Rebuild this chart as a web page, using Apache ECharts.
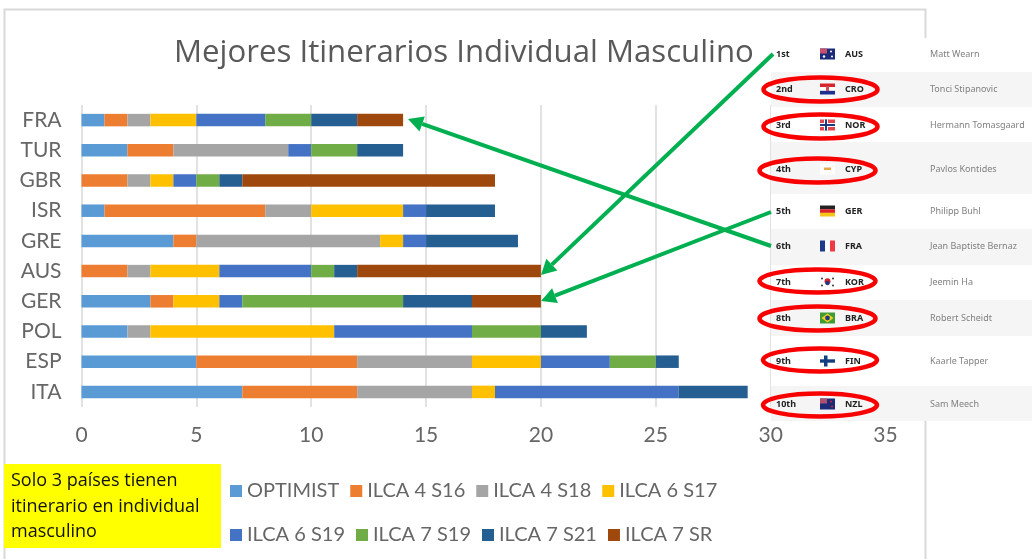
<!DOCTYPE html>
<html>
<head>
<meta charset="utf-8">
<title>Mejores Itinerarios Individual Masculino</title>
<script src="https://cdn.jsdelivr.net/npm/echarts@6/dist/echarts.min.js"></script>
<style>
  html, body { margin: 0; padding: 0; background: #fff; }
  #main { width: 1032px; height: 559px; }
</style>
</head>
<body>
<div id="main"></div>
<script>
var countries = ["FRA", "TUR", "GBR", "ISR", "GRE", "AUS", "GER", "POL", "ESP", "ITA"];
var optimist = [1, 2, 0, 1, 4, 0, 3, 2, 5, 7];
var ilca4s16 = [1, 2, 2, 7, 1, 2, 1, 0, 7, 5];
var ilca4s18 = [1, 5, 1, 2, 8, 1, 0, 1, 5, 5];
var ilca6s17 = [2, 0, 1, 4, 1, 3, 2, 8, 3, 1];
var ilca6s19 = [3, 1, 1, 1, 1, 4, 1, 6, 3, 8];
var ilca7s19 = [2, 2, 1, 0, 0, 1, 7, 3, 2, 0];
var ilca7s21 = [2, 2, 1, 3, 4, 1, 3, 2, 1, 3];
var ilca7sr = [2, 0, 11, 0, 0, 8, 3, 0, 0, 0];
var seriesNames = ["OPTIMIST", "ILCA 4 S16", "ILCA 4 S18", "ILCA 6 S17", "ILCA 6 S19", "ILCA 7 S19", "ILCA 7 S21", "ILCA 7 SR"];
var seriesValues = [optimist, ilca4s16, ilca4s18, ilca6s17, ilca6s19, ilca7s19, ilca7s21, ilca7sr];
var seriesColors = ["#5b9bd5", "#ed7d31", "#a5a5a5", "#ffc000", "#4472c4", "#70ad47", "#255e91", "#9e480e"];

// pasted results table on the right
var ranks = ["1st", "2nd", "3rd", "4th", "5th", "6th", "7th", "8th", "9th", "10th"];
var codes = ["AUS", "CRO", "NOR", "CYP", "GER", "FRA", "KOR", "BRA", "FIN", "NZL"];
var sailors = ["Matt Wearn", "Tonci Stipanovic", "Hermann Tomasgaard", "Pavlos Kontides", "Philipp Buhl", "Jean Baptiste Bernaz", "Jeemin Ha", "Robert Scheidt", "Kaarle Tapper", "Sam Meech"];
var rowTops = [38, 72, 107, 142, 194, 229, 265, 300, 336, 386, 421];
var rowCenters = [54, 89, 125, 169, 211, 246, 282, 318, 361, 404];

var FONT = "Lato, 'Open Sans', sans-serif";
var HEAD_FONT = "'Open Sans', sans-serif";
var TABLE_FONT = "'Noto Sans', 'Open Sans', sans-serif";
var GREEN = "#00b050";

function rect(x, y, w, h, fill) {
  return { type: "rect", shape: { x: x, y: y, width: w, height: h }, style: { fill: fill }, silent: true };
}

function dot(x, y, r, fill) {
  return { type: "circle", shape: { cx: x, cy: y, r: r }, style: { fill: fill }, silent: true };
}

// small flag pictures, 15x11 around the row centre
function flag(code, cy) {
  var x = 820, y = cy - 5.5;
  var parts = {
    AUS: [rect(x, y, 15, 11, "#1c2a78"), rect(x, y, 7, 5, "#c8506e"), dot(x + 11, y + 3, 1, "#fff"), dot(x + 12, y + 8, 1, "#fff"), dot(x + 4, y + 8, 1.2, "#fff")],
    CRO: [rect(x, y, 15, 3.7, "#d8232a"), rect(x, y + 3.7, 15, 3.7, "#fff"), rect(x, y + 7.3, 15, 3.7, "#1e2f8f"), rect(x + 6, y + 2.5, 3, 5, "#c8505a")],
    NOR: [rect(x, y, 15, 11, "#e0474c"), rect(x + 4, y, 4, 11, "#fff"), rect(x, y + 3.5, 15, 4, "#fff"), rect(x + 5, y, 2, 11, "#1f3b80"), rect(x, y + 4.5, 15, 2, "#1f3b80")],
    CYP: [rect(x, y, 15, 11, "#fdfdfd"), rect(x + 4, y + 4, 7, 2.5, "#e8a64a")],
    GER: [rect(x, y, 15, 3.7, "#222"), rect(x, y + 3.7, 15, 3.7, "#d8232a"), rect(x, y + 7.3, 15, 3.7, "#f5c518")],
    FRA: [rect(x, y, 5, 11, "#1e3a8a"), rect(x + 5, y, 5, 11, "#fff"), rect(x + 10, y, 5, 11, "#ef3a45")],
    KOR: [rect(x, y, 15, 11, "#fff"), dot(x + 7.5, y + 4.8, 3, "#d8232a"), dot(x + 7.5, y + 6.5, 2.2, "#1f3b80"), dot(x + 2, y + 2, 1, "#333"), dot(x + 13, y + 2, 1, "#333"), dot(x + 2, y + 9, 1, "#333"), dot(x + 13, y + 9, 1, "#333")],
    BRA: [rect(x, y, 15, 11, "#3f9c35"), { type: "polygon", shape: { points: [[x + 1.5, y + 5.5], [x + 7.5, y + 1], [x + 13.5, y + 5.5], [x + 7.5, y + 10]] }, style: { fill: "#f3d21f" }, silent: true }, dot(x + 7.5, y + 5.5, 2.4, "#1f3b80")],
    FIN: [rect(x, y, 15, 11, "#fff"), rect(x + 4, y, 3.5, 11, "#123f80"), rect(x, y + 3.8, 15, 3.4, "#123f80")],
    NZL: [rect(x, y, 15, 11, "#1c2a78"), rect(x, y, 7, 5, "#b05070"), dot(x + 11, y + 3, 1, "#d8232a"), dot(x + 12, y + 8, 1, "#d8232a")]
  };
  return parts[code];
}

function tableGraphics() {
  var out = [rect(771, rowTops[0], 261, rowTops[10] - rowTops[0], "#fff")];
  ranks.forEach(function (rank, i) {
    if (i % 2 === 1) out.push(rect(771, rowTops[i], 261, rowTops[i + 1] - rowTops[i], "#f5f5f5"));
    out.push({ type: "text", style: { x: 776, y: rowCenters[i], text: rank, fill: "#222", font: "bold 9px " + TABLE_FONT, verticalAlign: "middle" }, silent: true });
    out = out.concat(flag(codes[i], rowCenters[i]));
    out.push({ type: "text", style: { x: 845, y: rowCenters[i], text: codes[i], fill: "#222", font: "bold 9px " + TABLE_FONT, verticalAlign: "middle" }, silent: true });
    out.push({ type: "text", style: { x: 930, y: rowCenters[i], text: sailors[i], fill: "#808080", font: "9px " + TABLE_FONT, verticalAlign: "middle" }, silent: true });
  });
  return out;
}

// red rings round the countries without itinerary: cx, cy, rx, ry
var rings = [[820.5, 89.5, 57, 12], [820.5, 126.5, 57, 12], [817.5, 170.5, 58, 12], [817.5, 281, 58, 11.5], [817.5, 318.5, 58, 12], [820, 360, 57, 11.5], [820, 405, 57, 11.5]];
// green arrows from the table to the bars: x1, y1, x2, y2
var arrows = [[773, 54, 541, 275], [771, 212, 541, 301], [771, 246, 408, 119]];

function ringGraphics() {
  return rings.map(function (r) {
    return { type: "ellipse", shape: { cx: r[0], cy: r[1], rx: r[2], ry: r[3] }, style: { fill: "none", stroke: "#f80000", lineWidth: 4.5 }, silent: true };
  });
}

function arrowGraphics() {
  var out = [];
  arrows.forEach(function (a) {
    var ang = Math.atan2(a[3] - a[1], a[2] - a[0]);
    var bx = a[2] - Math.cos(ang) * 15, by = a[3] - Math.sin(ang) * 15;
    var nx = -Math.sin(ang) * 8, ny = Math.cos(ang) * 8;
    out.push({ type: "line", shape: { x1: a[0], y1: a[1], x2: bx, y2: by }, style: { stroke: GREEN, lineWidth: 4 }, silent: true });
    out.push({ type: "polygon", shape: { points: [[a[2], a[3]], [bx + nx, by + ny], [bx - nx, by - ny]] }, style: { fill: GREEN }, silent: true });
  });
  return out;
}

var frame = [
  { type: "polyline", shape: { points: [[4.5, 559], [4.5, 9.5], [925.5, 9.5], [925.5, 559]] }, style: { stroke: "#d9d9d9", lineWidth: 2, fill: "none" }, silent: true }
];

var note = [
  rect(4, 464, 217, 84, "#ffff00"),
  { type: "text", style: { x: 11, y: 481, text: "Solo 3 países tienen", fill: "#111", font: "18px " + HEAD_FONT, verticalAlign: "middle" }, silent: true },
  { type: "text", style: { x: 11, y: 507, text: "itinerario en individual", fill: "#111", font: "18px " + HEAD_FONT, verticalAlign: "middle" }, silent: true },
  { type: "text", style: { x: 11, y: 532, text: "masculino", fill: "#111", font: "18px " + HEAD_FONT, verticalAlign: "middle" }, silent: true }
];

var myChart = echarts.init(document.getElementById("main"), null, { renderer: "canvas" });
myChart.setOption({
  animation: false,
  backgroundColor: "#fff",
  color: seriesColors,
  title: {
    text: "Mejores Itinerarios Individual Masculino",
    left: 169,
    top: 33,
    textStyle: { fontFamily: HEAD_FONT, fontSize: 31.2, fontWeight: "normal", color: "#595959" }
  },
  legend: [
    {
      data: seriesNames.slice(0, 4), left: 225, top: 476, icon: "rect", itemWidth: 12, itemHeight: 12, itemGap: 11,
      textStyle: { fontFamily: FONT, fontSize: 20, color: "#666666" }
    },
    {
      data: seriesNames.slice(4), left: 225, top: 520, icon: "rect", itemWidth: 12, itemHeight: 12, itemGap: 11,
      textStyle: { fontFamily: FONT, fontSize: 20, color: "#666666" }
    }
  ],
  grid: { left: 81.5, top: 105, width: 804, height: 302 },
  xAxis: {
    type: "value",
    min: 0,
    max: 35,
    interval: 5,
    axisLine: { show: false },
    axisTick: { show: false },
    axisLabel: { fontFamily: FONT, fontSize: 21, color: "#666666", margin: 18 },
    splitLine: { lineStyle: { color: "#d9d9d9", width: 1.5 } }
  },
  yAxis: {
    type: "category",
    inverse: true,
    data: countries,
    axisLine: { show: false },
    axisTick: { show: false },
    axisLabel: { fontFamily: FONT, fontSize: 21, color: "#666666", margin: 20 }
  },
  series: seriesNames.map(function (name, i) {
    return { name: name, type: "bar", stack: "total", barWidth: 12.5, data: seriesValues[i] };
  }),
  graphic: {
    elements: [].concat(frame, note, tableGraphics(), ringGraphics(), arrowGraphics()).map(function (el) {
      el.z = 100;
      return el;
    })
  }
});
</script>
</body>
</html>
